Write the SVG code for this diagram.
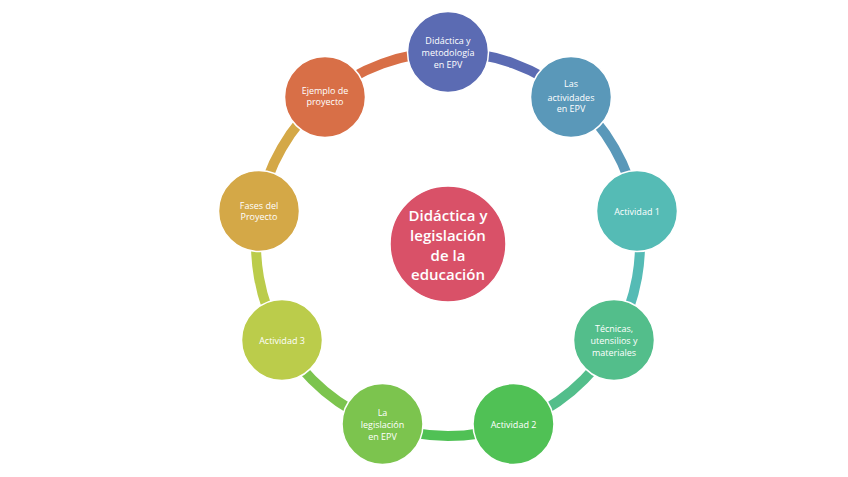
<svg xmlns="http://www.w3.org/2000/svg" width="848" height="477" viewBox="0 0 848 477">
<style>
.seg{fill:none;stroke-width:10}
.node{stroke:#ffffff;stroke-width:1.5}
.t{font-family:"Open Sans","Liberation Sans",sans-serif;font-size:9px;fill:#ffffff;text-anchor:middle}
.c{font-family:"Open Sans","Liberation Sans",sans-serif;font-size:15px;font-weight:600;fill:#ffffff;text-anchor:middle}
</style>
<rect width="848" height="477" fill="#ffffff"/>
<g id="connectors">
<path class="seg" stroke="#5B6BB3" d="M448,52 A192,192 0 0 1 571.41,96.92"/>
<path class="seg" stroke="#5A98B9" d="M571.41,96.92 A192,192 0 0 1 637.08,210.66"/>
<path class="seg" stroke="#55BBB5" d="M637.08,210.66 A192,192 0 0 1 614.28,340"/>
<path class="seg" stroke="#53BE8B" d="M614.28,340 A192,192 0 0 1 513.67,424.42"/>
<path class="seg" stroke="#50C155" d="M513.67,424.42 A192,192 0 0 1 382.33,424.42"/>
<path class="seg" stroke="#7CC44E" d="M382.33,424.42 A192,192 0 0 1 281.72,340"/>
<path class="seg" stroke="#BBCC4B" d="M281.72,340 A192,192 0 0 1 258.92,210.66"/>
<path class="seg" stroke="#D4A847" d="M258.92,210.66 A192,192 0 0 1 324.59,96.92"/>
<path class="seg" stroke="#D86F47" d="M324.59,96.92 A192,192 0 0 1 448,52"/>
</g>
<g id="center">
<circle cx="448" cy="244" r="58" fill="#D95168" class="node"/>
<text class="c"><tspan x="448" y="220.5">Didáctica y</tspan><tspan x="448" y="240.5">legislación</tspan><tspan x="448" y="260.5">de la</tspan><tspan x="448" y="280">educación</tspan></text>
</g>
<g id="n1">
<circle cx="448" cy="52" r="40.5" fill="#5B6BB3" class="node"/>
<text class="t"><tspan x="448" y="43.5">Didáctica y</tspan><tspan x="448" y="55.5">metodología</tspan><tspan x="448" y="67.5">en EPV</tspan></text>
</g>
<g id="n2">
<circle cx="571" cy="97" r="40.5" fill="#5A98B9" class="node"/>
<text class="t"><tspan x="571" y="87">Las</tspan><tspan x="571" y="100.5">actividades</tspan><tspan x="571" y="112">en EPV</tspan></text>
</g>
<g id="n3">
<circle cx="637" cy="211" r="40.5" fill="#55BBB5" class="node"/>
<text class="t" x="637" y="214.5">Actividad 1</text>
</g>
<g id="n4">
<circle cx="614" cy="340" r="40.5" fill="#53BE8B" class="node"/>
<text class="t"><tspan x="614" y="331.5">Técnicas,</tspan><tspan x="614" y="343.5">utensilios y</tspan><tspan x="614" y="355.5">materiales</tspan></text>
</g>
<g id="n5">
<circle cx="513.5" cy="424" r="40.5" fill="#50C155" class="node"/>
<text class="t" x="513.5" y="427.5">Actividad 2</text>
</g>
<g id="n6">
<circle cx="382.5" cy="424" r="40.5" fill="#7CC44E" class="node"/>
<text class="t"><tspan x="382.5" y="415.5">La</tspan><tspan x="382.5" y="427.5">legislación</tspan><tspan x="382.5" y="439.5">en EPV</tspan></text>
</g>
<g id="n7">
<circle cx="282" cy="340" r="40.5" fill="#BBCC4B" class="node"/>
<text class="t" x="282" y="343.5">Actividad 3</text>
</g>
<g id="n8">
<circle cx="259" cy="211" r="40.5" fill="#D4A847" class="node"/>
<text class="t"><tspan x="259" y="208.5">Fases del</tspan><tspan x="259" y="220">Proyecto</tspan></text>
</g>
<g id="n9">
<circle cx="325" cy="97" r="40.5" fill="#D86F47" class="node"/>
<text class="t"><tspan x="325" y="93.5">Ejemplo de</tspan><tspan x="325" y="105">proyecto</tspan></text>
</g>
</svg>
